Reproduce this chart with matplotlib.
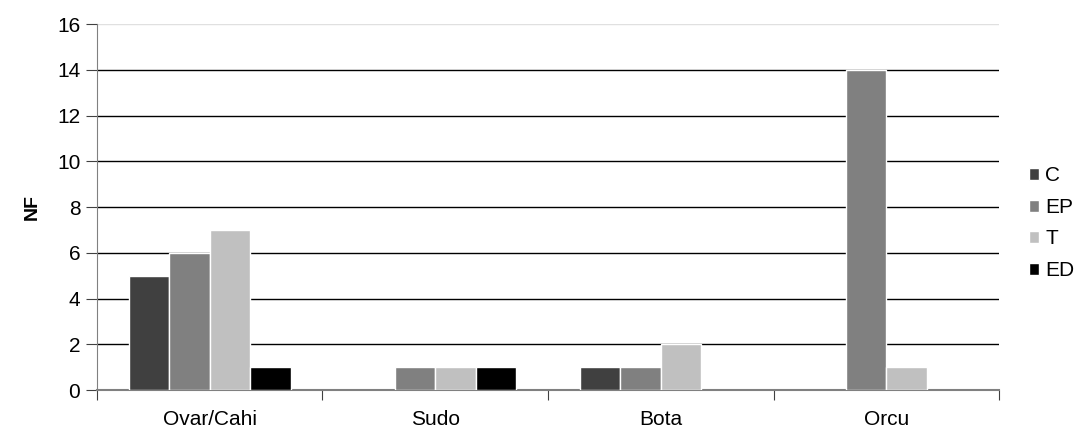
import matplotlib.pyplot as plt
import numpy as np

plt.rcParams['font.family'] = ['Liberation Sans', 'DejaVu Sans']

categorias = ['Ovar/Cahi', 'Sudo', 'Bota', 'Orcu']
series = ['C', 'EP', 'T', 'ED']
valores_C = [5, 0, 1, 0]
valores_EP = [6, 1, 1, 14]
valores_T = [7, 1, 2, 1]
valores_ED = [1, 1, 0, 0]
colores = ['#404040', '#808080', '#c0c0c0', '#000000']

datos = [valores_C, valores_EP, valores_T, valores_ED]

fig = plt.figure(figsize=(10.86, 4.32), dpi=100)
ax = fig.add_axes([0.0893, 0.097, 0.8306, 0.847])

x = np.arange(len(categorias))
ancho = 0.18
for i, (nombre, vals, col) in enumerate(zip(series, datos, colores)):
    vals = np.array(vals, dtype=float)
    pos = x + (i - 1.5) * ancho
    # solo barras con valor > 0 (las de cero no se ven)
    m = vals > 0
    ax.bar(pos[m], vals[m], width=ancho, color=col, edgecolor='white',
           linewidth=1, label=nombre, zorder=3)

ax.set_xlim(-0.5, len(categorias) - 0.5)
ax.set_ylim(0, 16)
ax.set_yticks(range(0, 17, 2))
for v in range(2, 16, 2):
    ax.axhline(v, color='black', linewidth=1, zorder=0)
ax.axhline(16, color='#e0e0e0', linewidth=1, zorder=0)

# ticks del eje x en los limites de cada categoria
ax.set_xticks(np.arange(-0.5, len(categorias), 1))
ax.set_xticklabels([])
ax.set_xticks(x, minor=True)
ax.set_xticklabels(categorias, minor=True)
ax.tick_params(axis='x', which='minor', length=0, labelsize=15, pad=14)
ax.tick_params(axis='x', which='major', length=7, direction='out', color='#404040')
ax.tick_params(axis='y', labelsize=15, length=8, color='#404040', pad=4)

for s in ['top', 'right']:
    ax.spines[s].set_visible(False)
ax.spines['left'].set_color('#808080')
ax.spines['bottom'].set_color('#808080')
ax.spines['bottom'].set_linewidth(1.5)

ax.set_ylabel('NF', fontsize=14, fontweight='bold', labelpad=12)

ax.legend(loc='center left', bbox_to_anchor=(1.033, 0.456), frameon=False,
          fontsize=15, handlelength=0.5, handleheight=0.5, handletextpad=0.3,
          labelspacing=0.6, borderpad=0, borderaxespad=0)

fig.savefig('out.png', dpi=100)
